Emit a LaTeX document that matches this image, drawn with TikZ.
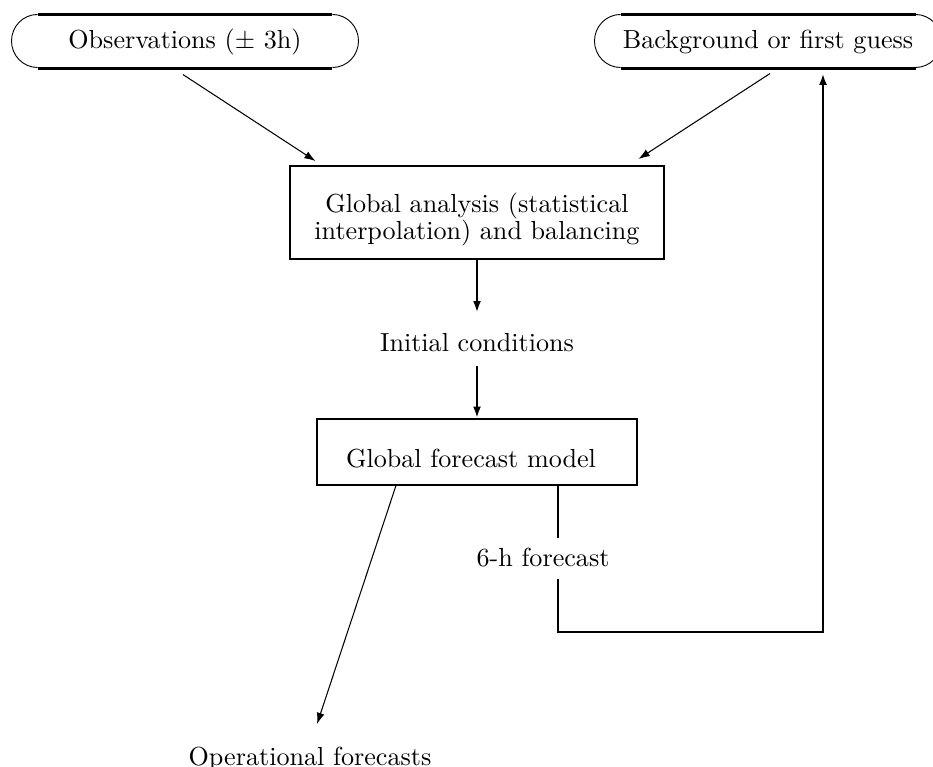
\documentclass[tikz,border=0pt]{standalone}
\usetikzlibrary{arrows.meta,calc}
\newcommand\anafont{\fontsize{10pt}{10.5pt}\selectfont\setlength{\lineskiplimit}{-10pt}}
\begin{document}
\begin{tikzpicture}[x=0.383pt,y=-0.383pt,
  pill/.style={minimum width=132.5pt,minimum height=20.3pt,inner sep=0pt},
  boxnode/.style={draw,line width=0.8pt,inner sep=0pt},
  plain/.style={inner sep=0pt},
  arr/.style={-{Latex[length=4.3pt,width=3pt]}},
  thickline/.style={line width=0.8pt},
  thinline/.style={line width=0.4pt},
  pillline/.style={line width=1pt},
  pillarc/.style={line width=0.35pt}]
\useasboundingbox (0,0) rectangle (933,767);
% top nodes
\node[pill] (obs) at (185,41.5) {Observations ($\pm$ 3h)};
\node[pill] (bg) at (768,41.5) {Background or first guess};
\foreach \n in {obs,bg}{
  \draw[pillline] ([xshift=9.96pt]\n.north west) -- ([xshift=-9.96pt]\n.north east);
  \draw[pillline] ([xshift=9.96pt]\n.south west) -- ([xshift=-9.96pt]\n.south east);
  \draw[pillarc] ([xshift=9.96pt]\n.north west) arc[start angle=90,end angle=270,x radius=9.96pt,y radius=10.15pt];
  \draw[pillarc] ([xshift=-9.96pt]\n.north east) arc[start angle=90,end angle=-90,x radius=9.96pt,y radius=10.15pt];
}
% boxes and labels
\node[boxnode,minimum width=142.9pt,minimum height=35.6pt,align=center,
      font=\anafont] (ana) at (477,212.5)
      {\rule{0pt}{13pt}Global analysis (statistical\\interpolation) and balancing};
\node[plain] (init) at (477,343) {Initial conditions};
\node[boxnode,minimum width=122.6pt,minimum height=25.3pt] (fc) at (477,452)
      {\rule{0pt}{12.3pt}Global forecast model\hspace*{4.6pt}};
\node[plain] (six) at (543,558) {6-h forecast};
\node[plain] (op) at (310,758.5) {Operational forecasts};
% connectors
\draw[arr,thinline] ([xshift=-0.8pt,yshift=-2.3pt]obs.south) -- ([xshift=10pt,yshift=1.5pt]ana.north west);
\draw[arr,thinline] ([xshift=0.8pt,yshift=-1.9pt]bg.south) -- ([xshift=-10pt,yshift=2.3pt]ana.north east);
\draw[arr,thickline] (ana.south) -- ([yshift=8pt]init.north);
\draw[arr,thickline] ([yshift=-5pt]init.south) -- (fc.north);
\draw[arr,thinline] ([xshift=30.6pt]fc.south west) -- ([xshift=2.7pt,yshift=8.5pt]op.north);
\coordinate (a) at ([xshift=-30.6pt]fc.south east);
\coordinate (c) at (823,632);
\draw[thickline] (a) -- ($(a |- six.north)+(0,-10)$);
\draw[thickline,arr] ($(a |- six.south)+(0,11)$) |- (c) -- ($(c |- bg.south)+(0,5)$);
\end{tikzpicture}
\end{document}
